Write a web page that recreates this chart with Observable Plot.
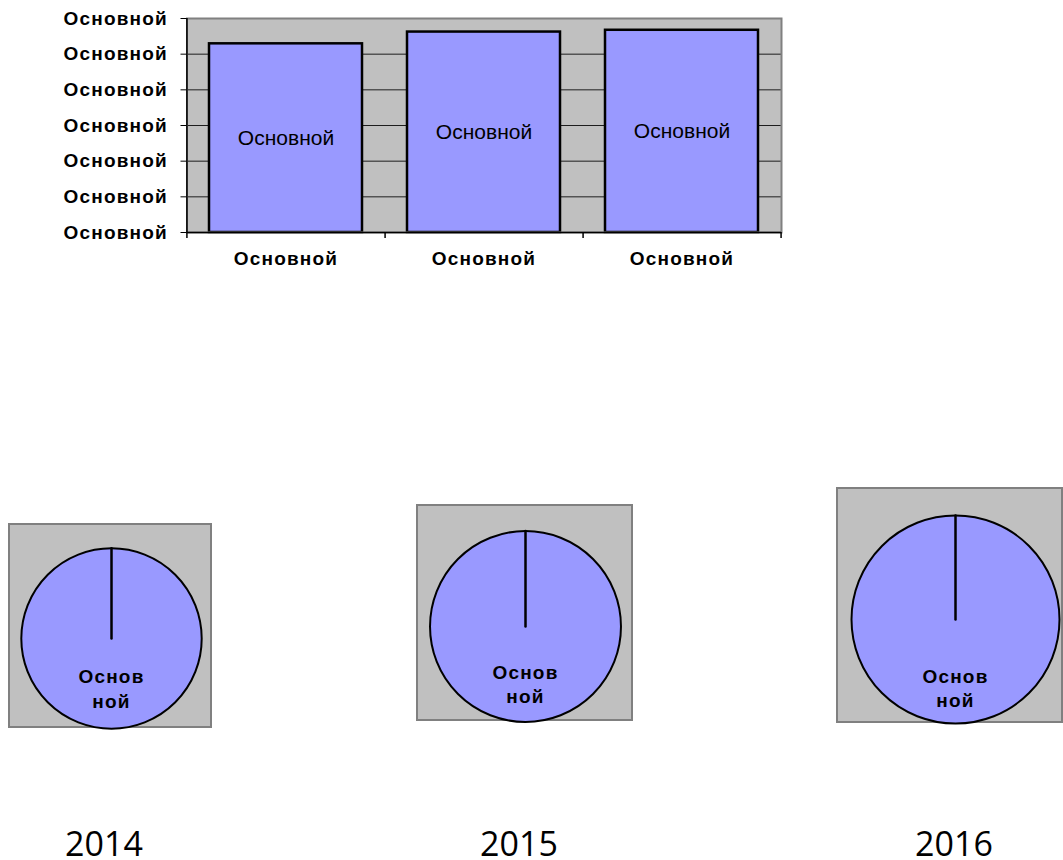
<!DOCTYPE html>
<html>
<head>
<meta charset="utf-8">
<script src="https://cdn.jsdelivr.net/npm/d3@7"></script>
<script src="https://cdn.jsdelivr.net/npm/@observablehq/plot@0.6"></script>
<style>
html, body { margin: 0; padding: 0; background: #fff; }
#root { position: relative; width: 1063px; height: 860px; overflow: hidden; font-family: "Liberation Sans", Arial, sans-serif; }
.abs { position: absolute; }
.pie svg { border: 2px solid #808080; display: block; }
.year { position: absolute; width: 200px; text-align: center; font-family: "Open Sans", sans-serif; font-size: 34px; line-height: 30px; color: #000; }
#bars g[aria-label="y-axis tick label"] text,
#bars g[aria-label="x-axis tick label"] text,
.pie g[aria-label="text"] text { letter-spacing: 1.2px; }
</style>
</head>
<body>
<div id="root"></div>
<script>
// ---- data ----
const categories = ["2014", "2015", "2016"];
const barValues = [5.29, 5.62, 5.67];
const barLabels = ["Основной", "Основной", "Основной"];
const xTickLabels = ["Основной", "Основной", "Основной"];
const yTickValues = [0, 1, 2, 3, 4, 5, 6];
const yTickLabels = ["Основной", "Основной", "Основной", "Основной", "Основной", "Основной", "Основной"];
const pieYears = ["2014", "2015", "2016"];
const pieValues = [81.4, 91.2, 108.2];
const pieSliceLabels = ["Основ\nной", "Основ\nной", "Основ\nной"];

// ---- layout ----
const root = document.getElementById("root");
const FILL = "#9999FF", BG = "#C0C0C0";

// Bar chart
const W = 800, H = 280, ML = 186.5, MR = 19, MT = 18, MB = 48;
const step = (W - ML - MR) / categories.length;
const barData = categories.map((c, i) => ({category: c, value: barValues[i], label: barLabels[i]}));

const bars = Plot.plot({
  width: W, height: H,
  marginLeft: ML, marginRight: MR, marginTop: MT, marginBottom: MB,
  style: {fontFamily: "'Liberation Sans', Arial, sans-serif", fontSize: "19px", fontWeight: "bold", color: "#000", background: "transparent", overflow: "visible"},
  x: {type: "band", domain: categories, paddingInner: 0.228, paddingOuter: 0.114},
  y: {domain: [0, 6]},
  marks: [
    Plot.frame({fill: BG}),
    Plot.gridY(yTickValues, {stroke: "#000", strokeOpacity: 0.85, strokeWidth: 1}),
    Plot.barY(barData, {x: "category", y: "value", fill: FILL, stroke: "#000", strokeWidth: 2.5}),
    Plot.text(barData, {x: "category", y: d => d.value / 2, text: "label", fontSize: 21, fontWeight: "normal"}),
    Plot.frame({stroke: "#808080", strokeWidth: 2}),
    Plot.ruleY([0], {stroke: "#000", strokeWidth: 1.5}),
    Plot.ruleX(categories.slice(0, 1), {x: d => d, dx: -step / 2, y1: 0, y2: 6, insetTop: 6, stroke: "#000", strokeWidth: 1.5}),
    Plot.ruleX(categories, {x: d => d, dx: step / 2, y1: 0, y2: 0, insetTop: 6, stroke: "#000", strokeWidth: 1.5}),
    Plot.axisY({ticks: yTickValues, tickFormat: d => yTickLabels[yTickValues.indexOf(d)], tickSize: 6, tickPadding: 13, label: null}),
    Plot.axisX({tickSize: 0, tickPadding: 19, tickFormat: d => xTickLabels[categories.indexOf(d)], label: null})
  ]
});
const barDiv = document.createElement("div");
barDiv.id = "bars";
barDiv.className = "abs";
barDiv.style.left = "0px";
barDiv.style.top = "0px";
barDiv.appendChild(bars);
root.appendChild(barDiv);

// Pies
const pieBoxes = [
  {left: 8, top: 523, w: 200, h: 201, mt: 24.8, ml: 1.6, mr: 0, dy: 49, lh: 1.3},
  {left: 416, top: 504, w: 213, h: 213, mt: 27.4, ml: 0, mr: 0, dy: 56.5, lh: 1.27},
  {left: 836, top: 487, w: 223, h: 232, mt: 28, ml: 11, mr: 0, dy: 68, lh: 1.22}
];
const maxPie = d3.max(pieValues);
const radial = {draw(context, l) { context.moveTo(0, 0); context.lineTo(0, -l); }};

pieYears.forEach((yr, i) => {
  const b = pieBoxes[i];
  const d = [{year: yr, value: pieValues[i], label: pieSliceLabels[i]}];
  const chart = Plot.plot({
    width: b.w, height: b.h,
    marginTop: b.mt, marginLeft: b.ml, marginRight: b.mr, marginBottom: 0,
    style: {background: BG, overflow: "visible", fontFamily: "'Liberation Sans', Arial, sans-serif", fontSize: "19px", fontWeight: "bold", color: "#000"},
    x: {type: "point", domain: [yr], axis: null},
    y: {type: "point", domain: [yr], axis: null},
    r: {type: "sqrt", domain: [0, maxPie], range: [0, 104]},
    length: {type: "sqrt", domain: [0, maxPie], range: [0, 104]},
    marks: [
      Plot.dot(d, {x: "year", y: "year", r: "value", fill: FILL, stroke: "#000", strokeWidth: 2}),
      Plot.vector(d, {x: "year", y: "year", length: "value", rotate: 0, anchor: "start", shape: radial, stroke: "#000", strokeWidth: 2.5}),
      Plot.text(d, {x: "year", y: "year", text: "label", dy: b.dy, lineHeight: b.lh})
    ]
  });
  const div = document.createElement("div");
  div.className = "abs pie";
  div.style.left = b.left + "px";
  div.style.top = b.top + "px";
  div.appendChild(chart);
  root.appendChild(div);
});

// Year captions
const yearCenters = [104, 519, 954];
pieYears.forEach((yr, i) => {
  const el = document.createElement("div");
  el.className = "year";
  el.textContent = yr;
  el.style.left = (yearCenters[i] - 100) + "px";
  el.style.top = "828px";
  root.appendChild(el);
});
</script>
</body>
</html>
